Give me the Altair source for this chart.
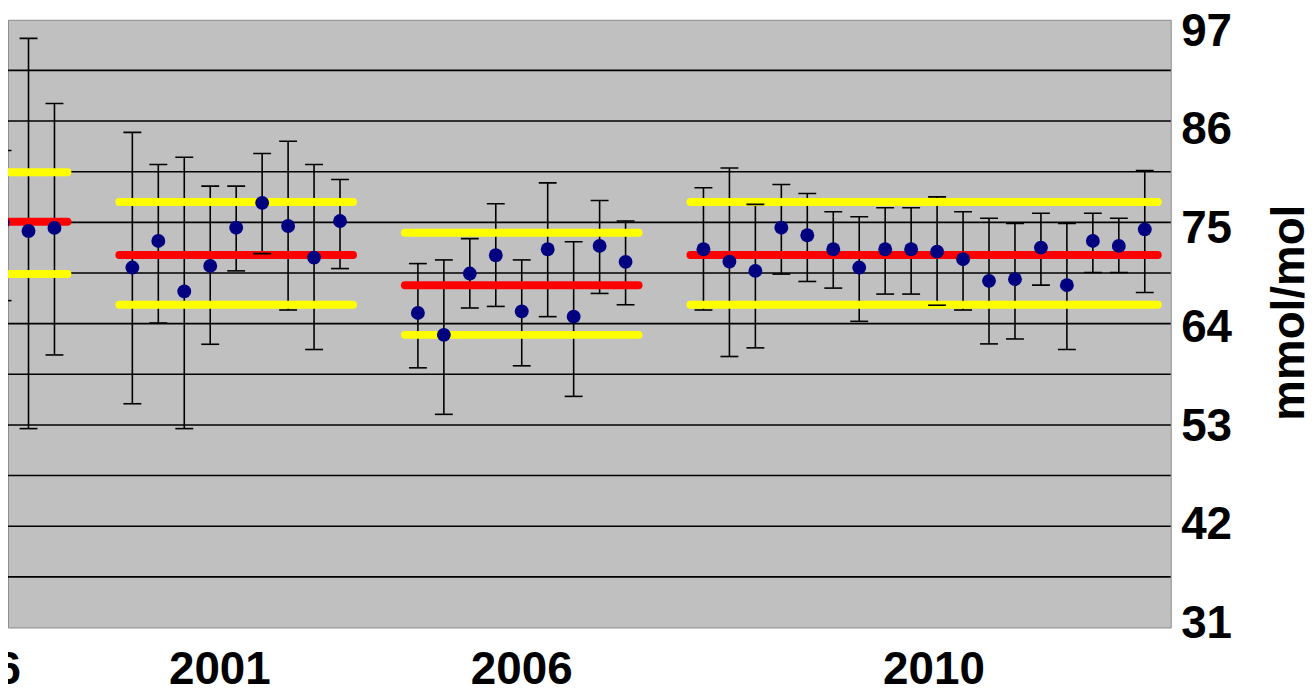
import altair as alt
import pandas as pd

# ---------------- data (mmol/mol) ----------------
# x index of each measurement; periods separated by two empty slots
idx_1996 = [-5, -4, -3]
mean_1996 = [74.96, 74.06, 74.4]
hi_1996 = [82.8, 94.98, 87.9]
lo_1996 = [66.5, 52.6, 60.6]

idx_2001 = [0, 1, 2, 3, 4, 5, 6, 7, 8]
mean_2001 = [70.09, 72.98, 67.5, 70.27, 74.42, 77.12, 74.6, 71.17, 75.14]
hi_2001 = [84.77, 81.28, 82.07, 78.93, 78.93, 82.47, 83.8, 81.28, 79.65]
lo_2001 = [55.3, 64.07, 52.6, 61.76, 69.73, 71.6, 65.48, 61.19, 69.98]

idx_2006 = [11, 12, 13, 14, 15, 16, 17, 18, 19]
mean_2006 = [65.16, 62.78, 69.44, 71.43, 65.33, 72.08, 64.76, 72.44, 70.71]
hi_2006 = [70.52, 70.92, 73.23, 77.02, 70.92, 79.29, 72.9, 77.38, 75.14]
lo_2006 = [59.2, 54.15, 65.7, 65.87, 59.42, 64.76, 56.1, 67.28, 66.05]

idx_2010 = [22, 23, 24, 25, 26, 27, 28, 29, 30, 31, 32, 33, 34, 35, 36, 37, 38, 39]
mean_2010 = [72.08, 70.74, 69.73, 74.42, 73.6, 72.08, 70.09, 72.08, 72.08,
             71.82, 71.0, 68.65, 68.83, 72.26, 68.18, 72.98, 72.44, 74.24]
hi_2010 = [78.75, 80.91, 76.95, 79.11, 78.14, 76.15, 75.61, 76.58, 76.58,
           77.77, 76.15, 75.44, 74.89, 75.98, 74.89, 75.98, 75.44, 80.63]
lo_2010 = [65.48, 60.43, 61.37, 69.38, 68.58, 67.86, 64.25, 67.21, 67.21,
           66.0, 65.48, 61.8, 62.34, 68.18, 61.19, 69.55, 69.55, 67.39]

# period reference lines: mean (red) and limits (yellow)
period_start = [-11.5, -0.5, 10.5, 21.5]
period_end = [-2.5, 8.5, 19.5, 39.5]
period_mean = [75.07, 71.46, 68.18, 71.46]
period_upper = [80.45, 77.2, 73.88, 77.2]
period_lower = [69.4, 66.05, 62.78, 66.05]

# axis labels
year_labels = ["1996", "2001", "2006", "2010"]
year_label_pos = [-6.25, 3.37, 15.0, 30.88]
right_ticks = [31, 42, 53, 64, 75, 86, 97]
grid_values = [36.5, 42, 47.5, 53, 58.5, 64, 69.5, 75, 80.5, 86, 91.5]

# ---------------- tables ----------------
pts = pd.DataFrame({
    "idx": idx_1996 + idx_2001 + idx_2006 + idx_2010,
    "mean": mean_1996 + mean_2001 + mean_2006 + mean_2010,
    "hi": hi_1996 + hi_2001 + hi_2006 + hi_2010,
    "lo": lo_1996 + lo_2001 + lo_2006 + lo_2010,
})
periods = pd.DataFrame({
    "x0": period_start, "x1": period_end,
    "mean": period_mean, "upper": period_upper, "lower": period_lower,
})
years = pd.DataFrame({"pos": year_label_pos, "label": year_labels})
rt = pd.DataFrame({"v": right_ticks})
grid = pd.DataFrame({"g": grid_values})

W, H = 1169, 611
FONT = "Liberation Sans"

xscale = alt.Scale(domain=[-4.79, 40.0], nice=False, zero=False)
yscale = alt.Scale(domain=[31, 97], nice=False, zero=False)

gridlines = alt.Chart(grid).mark_rule(color="#000000", strokeWidth=1.6).encode(
    y=alt.Y("g:Q", scale=yscale, axis=None),
)

bars = alt.Chart(pts).mark_rule(color="#000000", strokeWidth=1.6, clip=True).encode(
    x=alt.X("idx:Q", scale=xscale, axis=None),
    y=alt.Y("lo:Q", scale=yscale, axis=None),
    y2="hi:Q",
)
cap_hi = alt.Chart(pts).mark_tick(orient="horizontal", size=18, thickness=1.6,
                                  color="#000000", opacity=1, clip=True).encode(
    x=alt.X("idx:Q", scale=xscale, axis=None),
    y=alt.Y("hi:Q", scale=yscale, axis=None),
)
cap_lo = alt.Chart(pts).mark_tick(orient="horizontal", size=18, thickness=1.6,
                                  color="#000000", opacity=1, clip=True).encode(
    x=alt.X("idx:Q", scale=xscale, axis=None),
    y=alt.Y("lo:Q", scale=yscale, axis=None),
)


def ref_line(field, color):
    return alt.Chart(periods).mark_rule(color=color, strokeWidth=8,
                                        strokeCap="round", clip=True).encode(
        x=alt.X("x0:Q", scale=xscale, axis=None),
        x2="x1:Q",
        y=alt.Y(f"{field}:Q", scale=yscale, axis=None),
    )


upper = ref_line("upper", "#FFFF00")
lower = ref_line("lower", "#FFFF00")
meanl = ref_line("mean", "#FF0000")

points = alt.Chart(pts).mark_circle(size=195, color="#000080", opacity=1, clip=True).encode(
    x=alt.X("idx:Q", scale=xscale, axis=None),
    y=alt.Y("mean:Q", scale=yscale, axis=None),
)

year_text = alt.Chart(years).mark_text(
    font=FONT, fontSize=46, fontWeight="bold", color="#000000",
    baseline="middle", align="center", clip=False,
).encode(
    x=alt.X("pos:Q", scale=xscale, axis=None),
    y=alt.value(H + 43),
    text="label:N",
)

main = alt.layer(gridlines, bars, upper, lower, meanl, cap_hi, cap_lo, points, year_text)

right_axis = alt.Chart(rt).mark_point(opacity=0).encode(
    y=alt.Y("v:Q",
            scale=alt.Scale(domain=[30.56, 98.28], nice=False, zero=False),
            axis=alt.Axis(orient="right", values=right_ticks, grid=False,
                          ticks=False, domain=False, labelPadding=10,
                          labelFont=FONT, labelFontSize=46, labelFontWeight="bold",
                          labelColor="#000000", labelBaseline="middle",
                          labelAlign="left", labelFlush=False, labelOverlap=False,
                          labelBound=False,
                          title="mmol/mol", titleFont=FONT, titleFontSize=46,
                          titleFontWeight="bold", titleColor="#000000",
                          titleAngle=270, titleX=119, titleY=294,
                          titleAlign="center", titleBaseline="middle")),
)

chart = alt.layer(main, right_axis).resolve_scale(y="independent").properties(
    width=W, height=H,
    autosize=alt.AutoSizeParams(type="none"),
    padding={"left": 0, "top": 10, "right": 137, "bottom": 62},
    background="#FFFFFF",
).configure_view(fill="#C0C0C0", stroke="#8C8C8C", strokeWidth=1)

chart.save("out.html", embed_options={"renderer": "svg", "actions": False})
